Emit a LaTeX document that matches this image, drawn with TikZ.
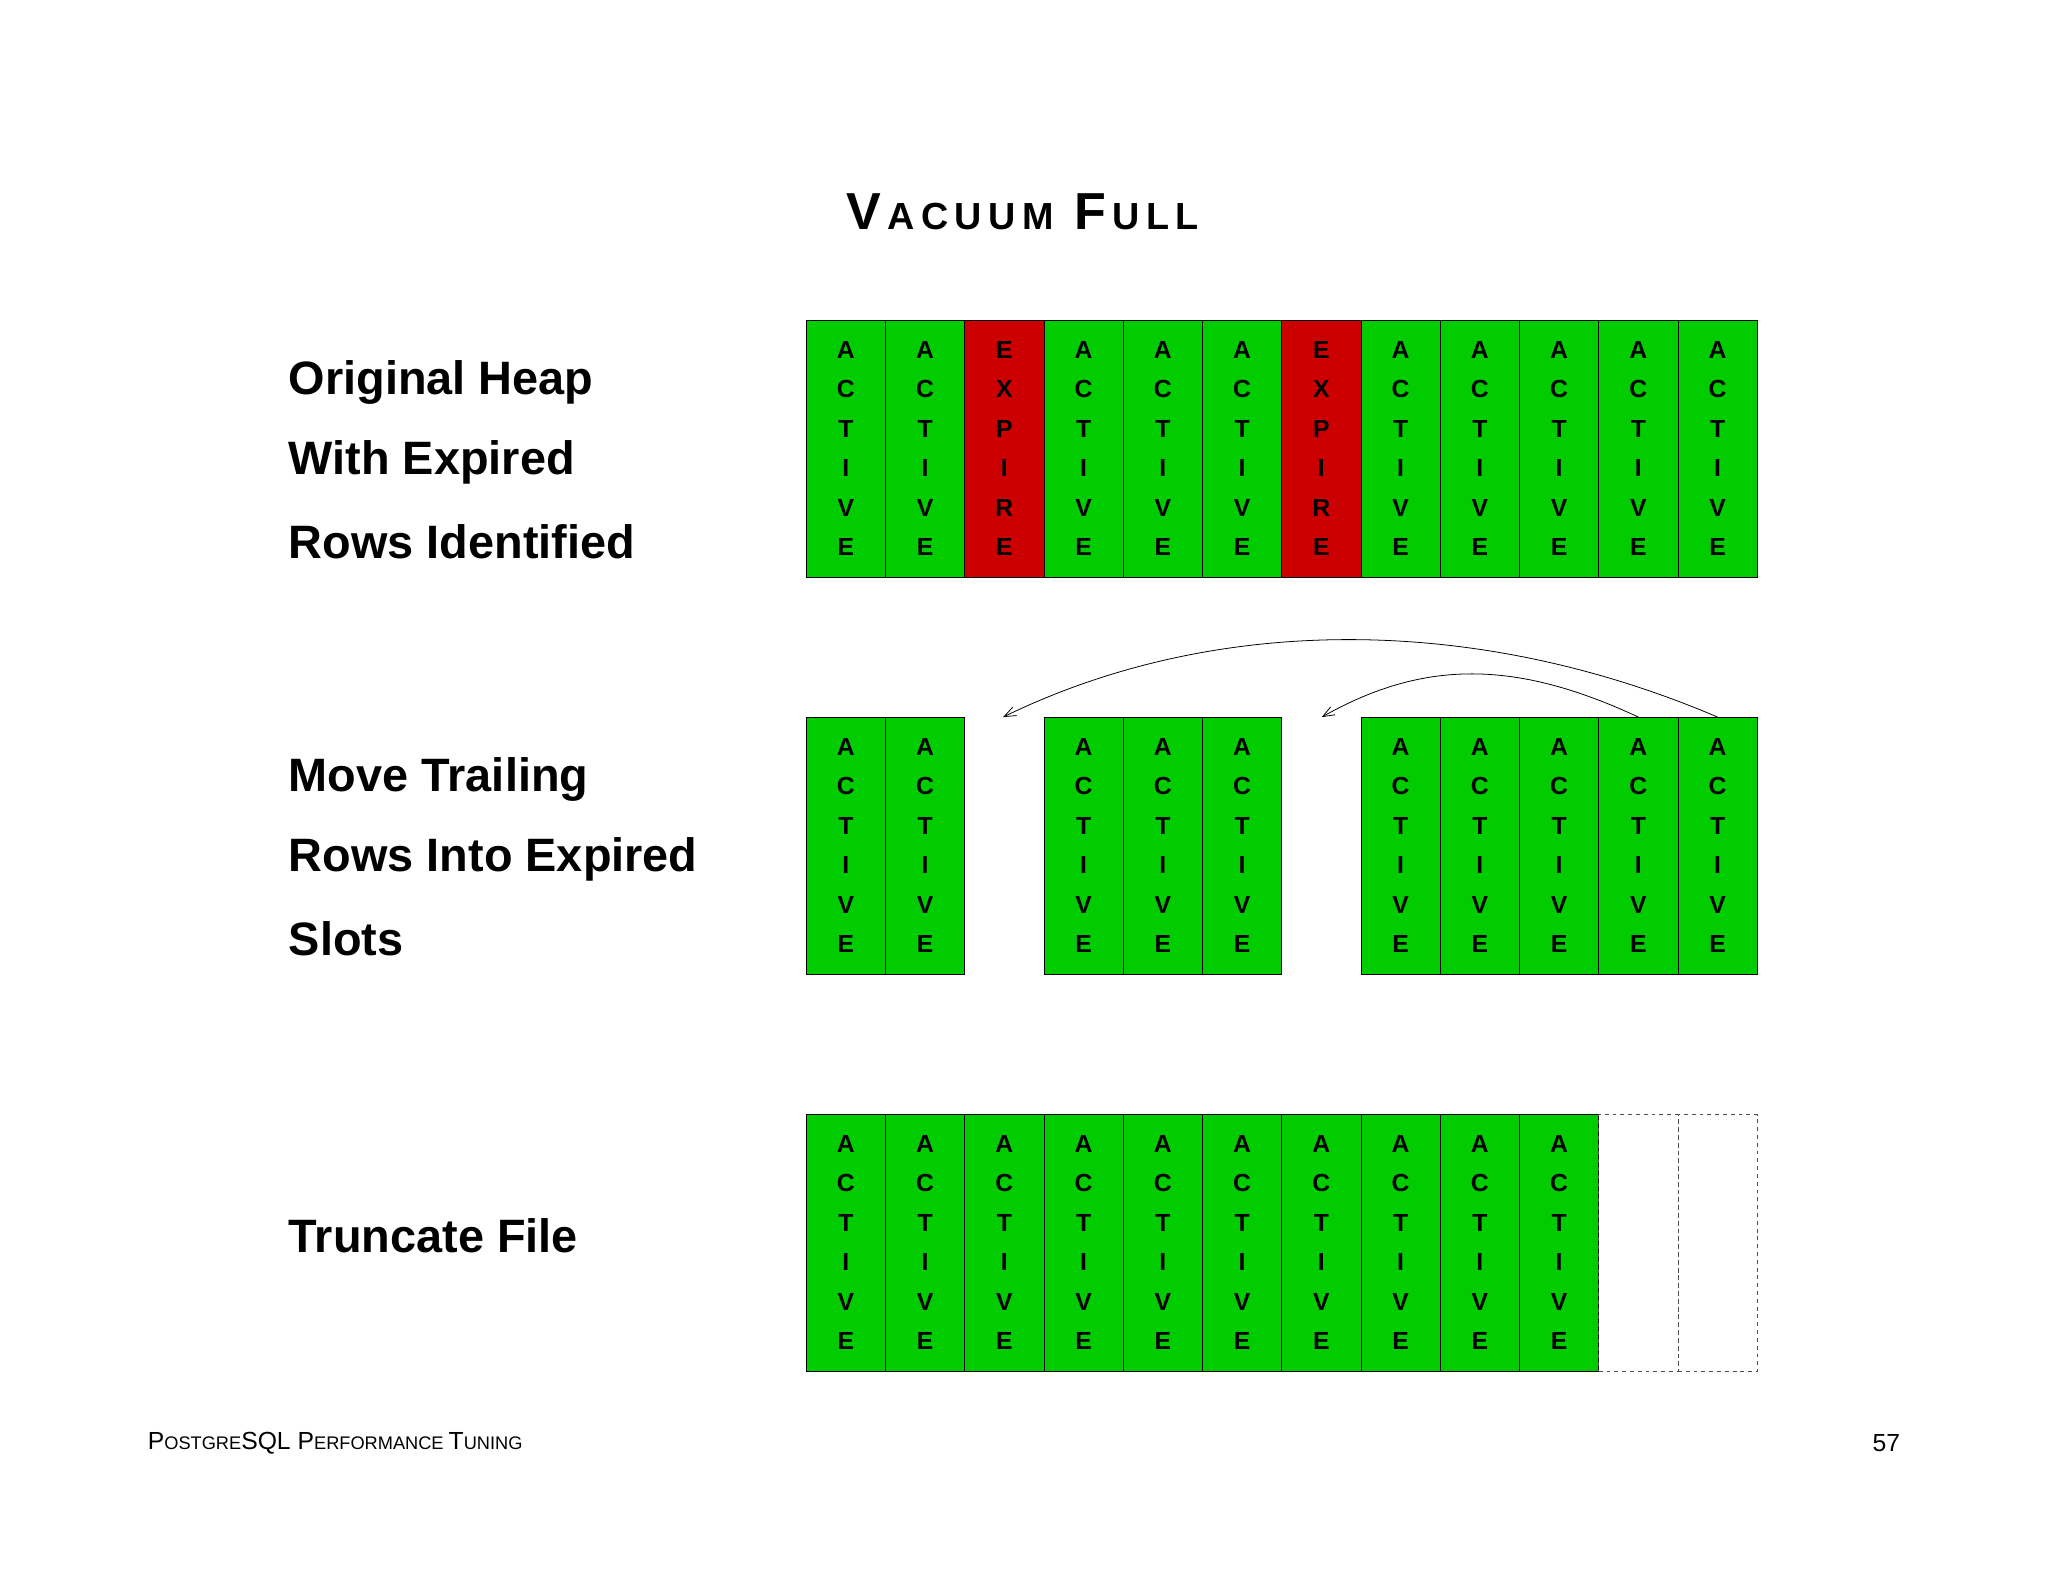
\documentclass[tikz,border=0pt]{standalone}
\usepackage{fontspec}
\setmainfont{Liberation Sans}
\usetikzlibrary{arrows.meta}
\definecolor{actg}{RGB}{0,204,0}
\definecolor{expr}{RGB}{204,0,0}
\tikzset{
 cell/.style={draw=black,line width=0.6bp,minimum width=60.7bp,minimum height=197bp,inner sep=0,anchor=north west},
 act/.style={cell,fill=actg},
 exp/.style={cell,fill=expr},
 gone/.style={cell,draw=black!70,dashed},
 lbl/.style={anchor=west,font=\fontsize{36}{40}\selectfont\bfseries,inner sep=0},
 mv/.style={-{Straight Barb[length=9bp,width=7bp]},line width=0.6bp}
}
\newcommand{\vword}[1]{\fontsize{19}{30.4}\selectfont\bfseries\begin{tabular}{@{}c@{}}#1\end{tabular}}
\newcommand{\actw}{A\\C\\T\\I\\V\\E}
\newcommand{\expw}{E\\X\\P\\I\\R\\E}
\begin{document}
\begin{tikzpicture}[x=1bp,y=-1bp]
\useasboundingbox (0,0) rectangle (1568,1211);
\node[inner sep=0] (title) at (783,162) {\bfseries\fontsize{40}{40}\selectfont V\fontsize{29}{29}\selectfont\,A\,C\,U\,U\,M\ \ \fontsize{40}{40}\selectfont F\fontsize{29}{29}\selectfont\,U\,L\,L};
% row 1
\foreach \i in {1,...,12}{
 \pgfmathtruncatemacro\isexp{(\i==3)||(\i==7)}
 \ifnum\isexp=1
  \node[exp] (r1c\i) at ({617+(\i-1)*60.67},245) {};
  \node at (r1c\i.center) {\vword{\expw}};
 \else
  \node[act] (r1c\i) at ({617+(\i-1)*60.67},245) {};
  \node at (r1c\i.center) {\vword{\actw}};
 \fi
}
% row 2
\foreach \i in {1,2,4,5,6,8,9,10,11,12}{
  \node[act] (r2c\i) at ({617+(\i-1)*60.67},549) {};
  \node at (r2c\i.center) {\vword{\actw}};
}
% row 3
\foreach \i in {1,...,10}{
  \node[act] (r3c\i) at ({617+(\i-1)*60.67},853) {};
  \node at (r3c\i.center) {\vword{\actw}};
}
\node[gone] (r3c11) at ({617+10*60.67},853) {};
\node[gone] (r3c12) at ({617+11*60.67},853) {};
% arrows
\coordinate (t3) at (768,549);
\coordinate (t7) at (1012,549);
\draw[mv] (r2c12.north) .. controls (1130,470) and (930,470) .. (t3);
\draw[mv] (r2c11.north) .. controls (1160,505) and (1090,505) .. (t7);
% labels
\node[lbl] (l1a) at (221,293) {Original Heap};
\node[lbl] (l1b) at (221,354) {With Expired};
\node[lbl] (l1c) at (221,415) {Rows Identified};
\node[lbl] (l2a) at (221,597) {Move Trailing};
\node[lbl] (l2b) at (221,658) {Rows Into Expired};
\node[lbl] (l2c) at (221,719) {Slots};
\node[lbl] (l3a) at (221,946) {Truncate File};
% footer
\node[anchor=west,inner sep=0] (foot) at (113,1105) {\fontsize{19}{19}\selectfont P\fontsize{14}{14}\selectfont OSTGRE\fontsize{19}{19}\selectfont SQL P\fontsize{14}{14}\selectfont ERFORMANCE \fontsize{19}{19}\selectfont T\fontsize{14}{14}\selectfont UNING};
\node[anchor=east,inner sep=0] (pg) at (1455,1105) {\fontsize{19}{19}\selectfont 57};
\end{tikzpicture}
\end{document}
